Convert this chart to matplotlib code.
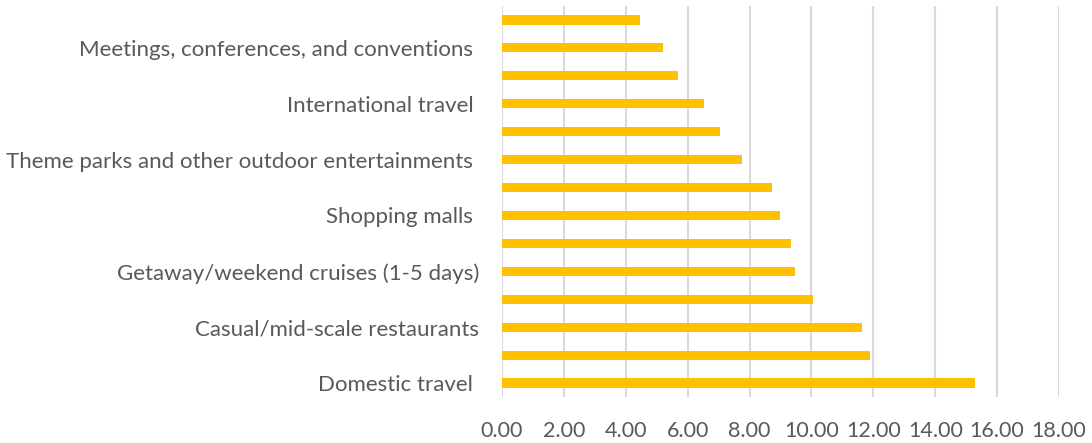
import matplotlib.pyplot as plt

plt.rcParams['font.family'] = ['Lato', 'DejaVu Sans']

# categories bottom to top; Excel only shows every other label
categories = ['Domestic travel ', '', 'Casual/mid-scale restaurants', '',
              'Getaway/weekend cruises (1-5 days)', '', 'Shopping malls ', '',
              'Theme parks and other outdoor entertainments ', '',
              'International travel ', '', 'Meetings, conferences, and conventions ', '']
values = [15.29, 11.88, 11.64, 10.06, 9.46, 9.33, 8.98, 8.73,
          7.77, 7.04, 6.53, 5.70, 5.21, 4.47]
xticks = [0, 2, 4, 6, 8, 10, 12, 14, 16, 18]

fig = plt.figure(figsize=(10.92, 4.43), dpi=100)
ax = fig.add_axes([0.4597, 0.1038, 0.5101, 0.8827])

pos = list(range(len(values)))
ax.barh(pos, values, height=0.33, color='#FFC000', zorder=3)

ax.set_xlim(0, 18)
ax.set_ylim(-0.5, len(values) - 0.5)
ax.set_xticks(xticks)
ax.set_xticklabels(['%.2f' % t for t in xticks])
ax.set_yticks(pos)
ax.set_yticklabels(categories)

ax.grid(axis='x', color='#D9D9D9', linewidth=1.5, zorder=0)
for s in ax.spines.values():
    s.set_visible(False)
ax.tick_params(axis='both', length=0, colors='#595959', labelsize=16)
ax.tick_params(axis='x', labelsize=15.5, pad=17)
ax.tick_params(axis='y', pad=16.5)

fig.savefig('out.png', dpi=100)
plt.close()
